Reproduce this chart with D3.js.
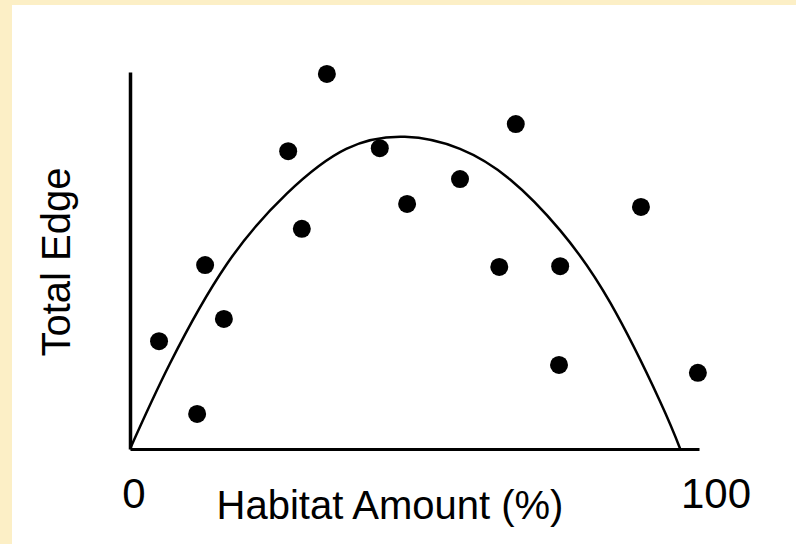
<!DOCTYPE html>
<head>
<meta charset="utf-8">
<style>
body { margin: 0; background: #fcefc6; }
svg { display: block; }
text { font-family: Arial, "Liberation Sans", sans-serif; fill: #000; }
.dot { fill: #000; }
.fit { fill: none; stroke: #000; stroke-width: 2.5; }
</style>
</head>
<body>
<svg width="796" height="544"></svg>
<script src="https://d3js.org/d3.v7.min.js"></script>
<script>
// habitat amount (%) of each landscape
var habitat = [34.6, 67.8, 27.8, 43.9, 58.0, 48.7, 89.8, 30.2, 13.2, 64.9, 75.6, 16.5, 5.1, 75.4, 99.8, 11.8];
// total edge, relative units
var edge = [99.5, 86.2, 79.0, 79.8, 71.6, 65.0, 64.2, 58.4, 48.8, 48.3, 48.5, 34.5, 28.6, 22.3, 20.2, 9.3];

// fitted curve
var fitX = [0, 7, 17, 27.6, 38, 48.3, 58, 66.8, 75.6, 84.4, 93.1, 96.7];
var fitY = [0, 22.6, 49.0, 67.8, 79.6, 82.8, 79.6, 71.5, 58.0, 38.8, 12.8, 0];

var xTicks = [0, 100];

var svg = d3.select("svg");

// white panel on the beige page
svg.append("rect")
  .attr("x", 12).attr("y", 5)
  .attr("width", 796 - 12).attr("height", 544 - 5)
  .attr("fill", "#fff");

var x = d3.scaleLinear().domain([0, 100]).range([130, 699]);
var y = d3.scaleLinear().domain([0, 100]).range([449, 72]);

// axes: just the lines, no ticks
svg.append("g")
  .attr("transform", "translate(0," + y(0) + ")")
  .call(d3.axisBottom(x).tickValues([]).tickSizeOuter(0))
  .call(function(g) { g.select(".domain").attr("stroke-width", 3); });

svg.append("g")
  .attr("transform", "translate(" + x(0) + ",0)")
  .call(d3.axisLeft(y).tickValues([]).tickSizeOuter(0))
  .call(function(g) { g.select(".domain").attr("stroke-width", 3.5); });

// curve
var line = d3.line()
  .x(function(d, i) { return x(fitX[i]); })
  .y(function(d, i) { return y(fitY[i]); })
  .curve(d3.curveNatural);

svg.append("path")
  .attr("class", "fit")
  .attr("d", line(fitX));

// points
svg.append("g")
  .selectAll("circle")
  .data(habitat)
  .enter().append("circle")
  .attr("class", "dot")
  .attr("cx", function(d) { return x(d); })
  .attr("cy", function(d, i) { return y(edge[i]); })
  .attr("r", 9);

// tick labels at the two ends
svg.append("g")
  .selectAll("text")
  .data(xTicks)
  .enter().append("text")
  .attr("x", function(d) { return x(d) + (d === 0 ? 4 : 17); })
  .attr("y", 508)
  .attr("text-anchor", "middle")
  .style("font-size", "42px")
  .text(function(d) { return d; });

svg.append("text")
  .attr("x", 390).attr("y", 519)
  .attr("text-anchor", "middle")
  .style("font-size", "40px")
  .text("Habitat Amount (%)");

svg.append("text")
  .attr("transform", "translate(70,262) rotate(-90)")
  .attr("text-anchor", "middle")
  .style("font-size", "40px")
  .text("Total Edge");
</script>
